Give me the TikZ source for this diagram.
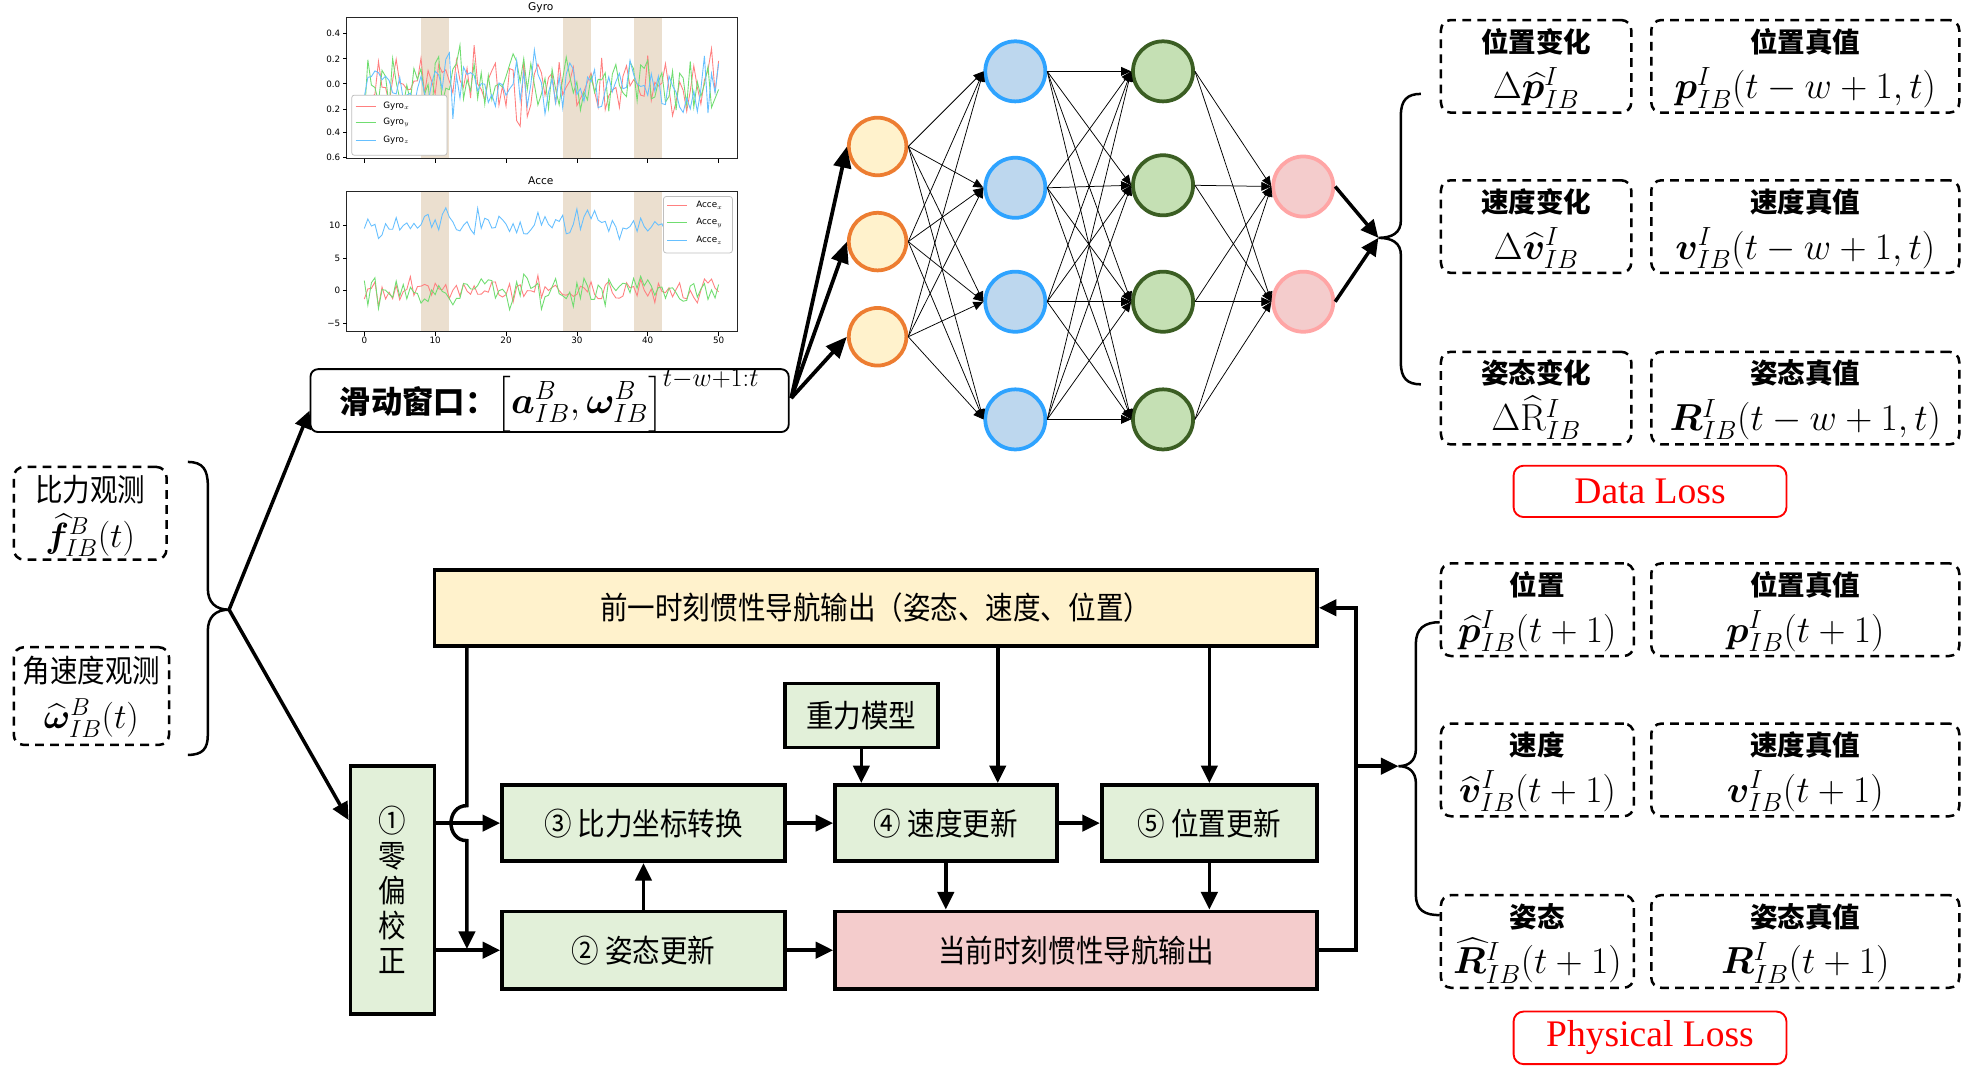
\RequirePackage{fix-cm}
\documentclass[tikz,border=0pt]{standalone}
\usepackage{amsmath}
\usepackage[no-math]{fontspec}
\usepackage{bm}
\newfontfamily\cjk{Noto Sans CJK SC}
\newfontfamily\cjkc[FakeStretch=0.88]{Noto Sans CJK SC}
\newfontfamily\tnr{Liberation Serif}
\newfontfamily\dv{DejaVu Sans}
\usetikzlibrary{arrows.meta,calc}
\definecolor{boxgreen}{HTML}{E2F0D9}
\definecolor{boxyellow}{HTML}{FFF2CC}
\definecolor{boxpink}{HTML}{F4CCCC}
\definecolor{orangeS}{HTML}{ED7D31}
\definecolor{orangeF}{HTML}{FFF2CC}
\definecolor{blueS}{HTML}{2EA3FF}
\definecolor{blueF}{HTML}{BDD7EE}
\definecolor{greenS}{HTML}{3B5E23}
\definecolor{greenF}{HTML}{C5E0B4}
\definecolor{pinkS}{HTML}{FFA5A5}
\definecolor{pinkF}{HTML}{F4CCCC}
\definecolor{bandc}{HTML}{EBDFCF}
\definecolor{lred}{HTML}{FF8080}
\definecolor{lgreen}{HTML}{70DD70}
\definecolor{lblue}{HTML}{66C0FF}
\definecolor{lossred}{HTML}{FF0000}
\newcommand\rtbox[7]{% name, cx, top, width, height, cjk, math
  \node[dbox, minimum width=#4, minimum height=#5, anchor=north] (#1) at (#2,#3) {};
  \node[rtxt] (#1t) at ($(#1.north)+(0,18)$) {#6};
  \node[rmath, anchor=base] (#1m) at ($(#1.north)+(0,64)$) {#7};
}
\tikzset{
  conn/.style={line width=2.8pt, -{Triangle[length=14pt,width=13pt]}},
  edge/.style={line width=0.6pt, -{Triangle[length=8pt,width=7pt]}},
  fbox/.style={draw, line width=3pt, inner sep=0pt, font=\cjkc\fontsize{25}{28}\selectfont},
  dbox/.style={draw, line width=2pt, dash pattern=on 7pt off 5pt, rounded corners=8pt, inner sep=0pt},
  rtxt/.style={inner sep=0pt, font=\cjk\bfseries\fontsize{22}{26}\selectfont},
  rmath/.style={inner sep=0pt, font=\fontsize{30}{34}\selectfont},
  losbox/.style={draw=lossred, line width=1.5pt, rounded corners=8pt, inner sep=0pt, text=lossred, font=\tnr\fontsize{30}{34}\selectfont},
  neur/.style={circle, line width=3pt, minimum size=46pt, inner sep=0pt},
  tick/.style={inner sep=1pt, font=\dv\fontsize{7}{8}\selectfont},
  leg/.style={inner sep=0pt, anchor=west, font=\dv\fontsize{7}{8}\selectfont},
}
\begin{document}
\begin{tikzpicture}[x=1pt,y=-1pt]
\useasboundingbox (0,0) rectangle (1568,866);
\fill[white] (0,0) rectangle (1568,866);
\pgfmathsetseed{17}
% ---------------- plots ----------------
\node[inner sep=0pt, font=\dv\fontsize{8.5}{10}\selectfont] (gtitle) at (432,6) {Gyro};
\node[inner sep=0pt, font=\dv\fontsize{8.5}{10}\selectfont] (atitle) at (432,144) {Acce};
\begin{scope}
  \clip (277,14) rectangle (589,127);
  \begin{scope}[shift={(291,67)}, x=5.66pt, y=99pt]
    \fill[bandc] (8,-1) rectangle (12,1);
    \fill[bandc] (28,-1) rectangle (32,1);
    \fill[bandc] (38,-1) rectangle (42,1);
    \draw[lred, line width=0.7pt] plot[domain=0:50, samples=101] (\x,{0.17*rand+0.25*rand*rand});
    \draw[lgreen, line width=0.7pt] plot[domain=0:50, samples=101] (\x,{0.18*rand+0.25*rand*rand});
    \draw[lblue, line width=0.7pt] plot[domain=0:50, samples=101] (\x,{0.15*rand+0.25*rand*rand});
  \end{scope}
\end{scope}
\draw[line width=0.8pt, black!85] (277,14) rectangle (589,127);
\begin{scope}
  \clip (277,153) rectangle (589,265);
  \begin{scope}[shift={(291,232)}, x=5.66pt, y=5.2pt]
    \fill[bandc] (8,-10) rectangle (12,20);
    \fill[bandc] (28,-10) rectangle (32,20);
    \fill[bandc] (38,-10) rectangle (42,20);
    \draw[lblue, line width=0.7pt] plot[domain=0:50, samples=101] (\x,{10+1.6*rand+2*rand*rand});
    \draw[lred, line width=0.7pt] plot[domain=0:50, samples=101] (\x,{1.3*rand+2*rand*rand});
    \draw[lgreen, line width=0.7pt] plot[domain=0:50, samples=101] (\x,{1.5*rand+2.2*rand*rand});
  \end{scope}
\end{scope}
\draw[line width=0.8pt, black!85] (277,153) rectangle (589,265);
\foreach \v/\l [count=\n] in {27/0.4,47/0.2,67/0.0,87/0.2,106/0.4,126/0.6}{
  \draw[line width=0.6pt] (277,\v) -- (274,\v);
  \node[tick, anchor=east] (gy\n) at (273,\v) {\l};
}
\foreach \v/\l [count=\n] in {180/10,206/5,232/0,258/−5}{
  \draw[line width=0.6pt] (277,\v) -- (274,\v);
  \node[tick, anchor=east] (ay\n) at (273,\v) {\l};
}
\foreach \k [count=\n] in {0,10,20,30,40,50}{
  \draw[line width=0.6pt] ({291+5.66*\k},127) -- ({291+5.66*\k},130);
  \draw[line width=0.6pt] ({291+5.66*\k},265) -- ({291+5.66*\k},268);
  \node[tick, anchor=north] (ax\n) at ({291+5.66*\k},268) {\k};
}
% legends
\draw[black!25, fill=white, line width=0.6pt, rounded corners=2pt] (281,76) rectangle (357,124);
\draw[lred, line width=0.9pt] (284,85) -- (300,85);
\draw[lgreen, line width=0.9pt] (284,98) -- (300,98);
\draw[lblue, line width=0.9pt] (284,112) -- (300,112);
\node[leg] (lg1) at (306,85) {Gyro$_x$};
\node[leg] (lg2) at (306,98) {Gyro$_y$};
\node[leg] (lg3) at (306,112) {Gyro$_z$};
\draw[black!25, fill=white, line width=0.6pt, rounded corners=2pt] (530,157) rectangle (585,202);
\draw[lred, line width=0.9pt] (533,164) -- (549,164);
\draw[lgreen, line width=0.9pt] (533,178) -- (549,178);
\draw[lblue, line width=0.9pt] (533,192) -- (549,192);
\node[leg] (la1) at (556,164) {Acce$_x$};
\node[leg] (la2) at (556,178) {Acce$_y$};
\node[leg] (la3) at (556,192) {Acce$_z$};
% ---------------- inputs ----------------
\node[dbox, minimum width=122, minimum height=74] (inF) at (72,410) {};
\node[inner sep=0pt, font=\cjkc\fontsize{25}{28}\selectfont] (inFt) at (72,391) {比力观测};
\node[inner sep=0pt, anchor=base, font=\fontsize{28}{32}\selectfont] (inFm) at (72,437) {$\widehat{\bm f}^{B}_{IB}(t)$};
\node[dbox, minimum width=124, minimum height=78] (inW) at (73,556) {};
\node[inner sep=0pt, font=\cjkc\fontsize{25}{28}\selectfont] (inWt) at (73,536) {角速度观测};
\node[inner sep=0pt, anchor=base, font=\fontsize{28}{32}\selectfont] (inWm) at (73,582) {$\widehat{\bm\omega}^{B}_{IB}(t)$};
\coordinate (bt) at (183,487);
\draw[line width=2pt] (150,369) .. controls (162,369) and (166,375) .. (166,388) -- (166,470)
   .. controls (166,481) and (172,487) .. (bt) .. controls (172,487) and (166,493) .. (166,504)
   -- (166,587) .. controls (166,598) and (162,603) .. (150,603);
% sliding window
\node[draw, line width=1.5pt, rounded corners=6pt, minimum width=382, minimum height=44, inner sep=0pt, font=\fontsize{30}{34}\selectfont] (sw) at (439,320)
  {{\cjk\bfseries\fontsize{25}{30}\selectfont 滑动窗口：}$\bigl[\bm a^{B}_{IB},\bm\omega^{B}_{IB}\bigr]^{t-w+1:t}$};
\draw[conn] (bt) -- ($(sw.west)+(0,8)$);
% ---------------- network ----------------
\foreach \y [count=\n] in {117,193,269}{\node[neur, draw=orangeS, fill=orangeF] (o\n) at (701,\y) {};}
\foreach \y [count=\n] in {57,150,241,335}{\node[neur, draw=blueS, fill=blueF, minimum size=48pt] (b\n) at (811,\y) {};}
\foreach \y [count=\n] in {57,148,241,335}{\node[neur, draw=greenS, fill=greenF, minimum size=48pt] (g\n) at (929,\y) {};}
\foreach \y [count=\n] in {149,241}{\node[neur, draw=pinkS, fill=pinkF, minimum size=48pt] (p\n) at (1041,\y) {};}
\foreach \i in {1,2,3}{\foreach \j in {1,...,4}{\draw[edge] (o\i.east) -- (b\j.west);}}
\foreach \i in {1,...,4}{\foreach \j in {1,...,4}{\draw[edge] (b\i.east) -- (g\j.west);}}
\foreach \i in {1,...,4}{\foreach \j in {1,2}{\draw[edge] (g\i.east) -- (p\j.west);}}
\coordinate (swo) at (632,318);
\foreach \n in {1,2,3}{\draw[line width=3pt, -{Triangle[length=17pt,width=14pt]}] (swo) -- (o\n.west);}
\coordinate (dt) at (1101,190);
\draw[conn] (p1.east) -- (dt);
\draw[conn] (p2.east) -- (dt);
\draw[line width=2pt] (1135,75) .. controls (1124,75) and (1119,80) .. (1119,92) -- (1119,176)
   .. controls (1119,186) and (1112,190) .. (dt) .. controls (1112,190) and (1119,194) .. (1119,204)
   -- (1119,290) .. controls (1119,302) and (1124,307) .. (1135,307);
% ---------------- data loss boxes ----------------
\rtbox{da1}{1227}{15}{152}{74}{位置变化}{$\Delta\widehat{\bm p}^{I}_{IB}$}
\rtbox{da2}{1442}{15}{246}{74}{位置真值}{$\bm p^{I}_{IB}(t-w+1,t)$}
\rtbox{db1}{1227}{143}{152}{74}{速度变化}{$\Delta\widehat{\bm v}^{I}_{IB}$}
\rtbox{db2}{1442}{143}{246}{74}{速度真值}{$\bm v^{I}_{IB}(t-w+1,t)$}
\rtbox{dc1}{1227}{280}{152}{74}{姿态变化}{$\Delta\widehat{\mathrm R}^{I}_{IB}$}
\rtbox{dc2}{1442}{280}{246}{74}{姿态真值}{$\bm R^{I}_{IB}(t-w+1,t)$}
\node[losbox, minimum width=218, minimum height=41] (dloss) at (1318,392.5) {Data Loss};
% ---------------- physical loss boxes ----------------
\rtbox{pa1}{1228}{449}{154}{74}{位置}{$\widehat{\bm p}^{I}_{IB}(t+1)$}
\rtbox{pa2}{1442}{449}{246}{74}{位置真值}{$\bm p^{I}_{IB}(t+1)$}
\rtbox{pb1}{1228}{577}{154}{74}{速度}{$\widehat{\bm v}^{I}_{IB}(t+1)$}
\rtbox{pb2}{1442}{577}{246}{74}{速度真值}{$\bm v^{I}_{IB}(t+1)$}
\rtbox{pc1}{1228}{714}{154}{74}{姿态}{$\widehat{\bm R}^{I}_{IB}(t+1)$}
\rtbox{pc2}{1442}{714}{246}{74}{姿态真值}{$\bm R^{I}_{IB}(t+1)$}
\node[losbox, minimum width=218, minimum height=42] (ploss) at (1318,829) {Physical Loss};
\coordinate (pt) at (1117,612);
\draw[line width=2pt] (1150,497) .. controls (1138,497) and (1131,502) .. (1131,514) -- (1131,598)
   .. controls (1131,608) and (1125,612) .. (pt) .. controls (1125,612) and (1131,616) .. (1131,626)
   -- (1131,715) .. controls (1131,727) and (1138,731) .. (1150,731);
% ---------------- INS flow ----------------
\node[fbox, fill=boxyellow, minimum width=705, minimum height=61] (prev) at (699.5,485.5) {前一时刻惯性导航输出（姿态、速度、位置）};
\node[fbox, fill=boxgreen, minimum width=122, minimum height=51] (grav) at (688,571.5) {重力模型};
\node[fbox, fill=boxgreen, minimum width=67, minimum height=198, align=center, font=\cjkc\fontsize{25}{28}\selectfont] (zero) at (313.5,711) {①\\零\\偏\\校\\正};
\node[fbox, fill=boxgreen, minimum width=226, minimum height=61] (conv) at (514,657.5) {③ 比力坐标转换};
\node[fbox, fill=boxgreen, minimum width=177, minimum height=61] (vel) at (755.5,657.5) {④ 速度更新};
\node[fbox, fill=boxgreen, minimum width=172, minimum height=61] (pos) at (966,657.5) {⑤ 位置更新};
\node[fbox, fill=boxgreen, minimum width=226, minimum height=62] (att) at (514,759) {② 姿态更新};
\node[fbox, fill=boxpink, minimum width=385, minimum height=62] (cur) at (859.5,759) {当前时刻惯性导航输出};
\draw[conn] (bt) -- ($(zero.west)+(0,-56)$);
\coordinate (hx) at (373,0);
\coordinate (vx) at (797,0);
\coordinate (fb) at (1083,612);
\draw[conn] (conv.west -| zero.east) -- (conv.west);
\draw[conn] (att.west -| zero.east) -- (att.west);
\draw[conn] (prev.south -| hx) -- ($(hx |- conv.west)+(0,-14)$)
   .. controls +(-17,0) and +(-17,0) .. ($(hx |- conv.west)+(0,14)$) -- ($(hx |- att.west)+(0,-1)$);
\draw[conn] (prev.south -| vx) -- (vel.north -| vx);
\draw[conn] (prev.south -| pos.north) -- (pos.north);
\draw[conn] (grav.south) -- (vel.north -| grav.south);
\draw[conn] (conv.east) -- (vel.west);
\draw[conn] (vel.east) -- (pos.west);
\draw[conn] (att.north) -- (conv.south);
\draw[conn] (att.east) -- (cur.west);
\draw[conn] (vel.south) -- (cur.north -| vel.south);
\draw[conn] (pos.south) -- (cur.north -| pos.south);
\draw[conn] (cur.east) -| (fb |- prev.east) -- (prev.east);
\draw[conn] (fb) -- (pt);
\end{tikzpicture}
\end{document}
